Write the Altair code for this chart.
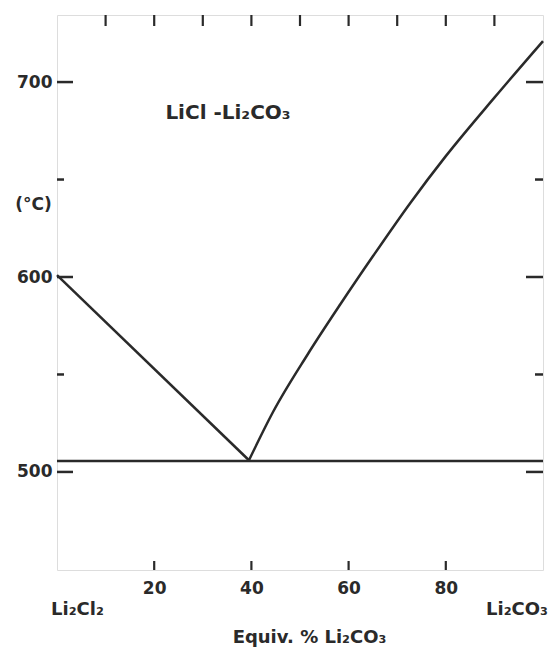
import altair as alt
import pandas as pd

# ---- data ----
comp_left = [0, 39.5]
temp_left = [601, 506]
comp_right = [39.5, 44.5, 51.5, 58.3, 65.1, 72.7, 80, 90, 100]
temp_right = [506, 531, 560, 586, 611, 638, 662, 692, 721]
eutectic_comp = [0, 100]
eutectic_temp = 505.6

x_label_values = [20, 40, 60, 80]
x_top_ticks = [10, 20, 30, 40, 50, 60, 70, 80, 90]
y_label_values = [500, 600, 700]
y_minor_ticks = [550, 650]

system_label = "LiCl  -Li₂CO₃"
left_end_label = "Li₂Cl₂"
right_end_label = "Li₂CO₃"
x_title = "Equiv. %  Li₂CO₃"
y_title = "(°C)"

X_DOMAIN = [0, 100]
Y_DOMAIN = [449.7, 734.4]
W, H = 486, 555
INK = "#2a2a2a"
FONT = "DejaVu Sans"
FW = "bold"

xs = alt.Scale(domain=X_DOMAIN, nice=False, zero=False)
ys = alt.Scale(domain=Y_DOMAIN, nice=False, zero=False)

left_df = pd.DataFrame({"x": comp_left, "t": temp_left})
right_df = pd.DataFrame({"x": comp_right, "t": temp_right})
eut_df = pd.DataFrame({"x": eutectic_comp, "t": [eutectic_temp] * 2})

base_x = alt.X("x:Q", scale=xs,
               axis=alt.Axis(values=x_label_values, ticks=False, domain=False, grid=False,
                             labelFontSize=17, labelPadding=10, labelColor=INK,
                             labelFont=FONT, labelFontWeight=FW,
                             title=x_title, titleFontSize=18, titleFontWeight=FW, titleFont=FONT,
                             titleColor=INK, titleX=252, titleAlign="center",
                             titleY=67, titleBaseline="middle"))
base_y = alt.Y("t:Q", scale=ys,
               axis=alt.Axis(values=y_label_values, ticks=False, domain=False, grid=False,
                             labelFontSize=17, labelPadding=5, labelColor=INK,
                             labelFont=FONT, labelFontWeight=FW,
                             title=y_title, titleAngle=0, titleX=-24, titleY=189,
                             titleAlign="center", titleBaseline="middle", titleFont=FONT,
                             titleFontSize=17, titleFontWeight=FW, titleColor=INK))

left_line = alt.Chart(left_df).mark_line(color=INK, strokeWidth=2.5).encode(x=base_x, y=base_y)
right_line = alt.Chart(right_df).mark_line(color=INK, strokeWidth=2.5, interpolate="monotone").encode(
    x=alt.X("x:Q", scale=xs), y=alt.Y("t:Q", scale=ys))
eut_line = alt.Chart(eut_df).mark_line(color=INK, strokeWidth=2.5).encode(
    x=alt.X("x:Q", scale=xs), y=alt.Y("t:Q", scale=ys))

# inward tick marks
ymaj = pd.DataFrame({"t": y_label_values})
ymin = pd.DataFrame({"t": y_minor_ticks})
xtop = pd.DataFrame({"x": x_top_ticks})
xbot = pd.DataFrame({"x": x_label_values})

def yrule(df, x0, x1):
    return alt.Chart(df).mark_rule(color=INK, strokeWidth=2.5).encode(
        y=alt.Y("t:Q", scale=ys), x=alt.value(x0), x2=alt.value(x1))

def xrule(df, y0, y1):
    return alt.Chart(df).mark_rule(color=INK, strokeWidth=2.2).encode(
        x=alt.X("x:Q", scale=xs), y=alt.value(y0), y2=alt.value(y1))

ticks = [
    yrule(ymaj, 0, 16), yrule(ymin, 0, 7),
    yrule(ymaj, W - 17, W), yrule(ymin, W - 8, W),
    xrule(xtop, 0, 11), xrule(xbot, H - 9, H),
]

# text annotations
ann = pd.DataFrame({"x": [22.3], "t": [684], "label": [system_label]})
title_txt = alt.Chart(ann).mark_text(align="left", baseline="middle", fontSize=20,
                                     font=FONT, fontWeight=FW, color=INK).encode(
    x=alt.X("x:Q", scale=xs), y=alt.Y("t:Q", scale=ys), text="label:N")

ends = pd.DataFrame({"x": [0, 100], "t": [429.2, 429.2],
                     "label": [left_end_label, right_end_label]})
left_txt = alt.Chart(ends.iloc[[0]]).mark_text(align="left", baseline="middle", fontSize=18,
                                               font=FONT, fontWeight=FW, color=INK, dx=-6).encode(
    x=alt.X("x:Q", scale=xs), y=alt.Y("t:Q", scale=ys), text="label:N")
right_txt = alt.Chart(ends.iloc[[1]]).mark_text(align="right", baseline="middle", fontSize=18,
                                                font=FONT, fontWeight=FW, color=INK, dx=5).encode(
    x=alt.X("x:Q", scale=xs), y=alt.Y("t:Q", scale=ys), text="label:N")

chart = alt.layer(left_line, right_line, eut_line, *ticks, title_txt, left_txt, right_txt).properties(
    width=W, height=H,
    autosize=alt.AutoSizeParams(type="none"),
    padding={"left": 49, "top": 7, "right": 5, "bottom": 78},
).configure_view(stroke=INK, strokeWidth=2.5).configure(background="white")

chart.save("out.html", embed_options={"renderer": "svg", "actions": False})
